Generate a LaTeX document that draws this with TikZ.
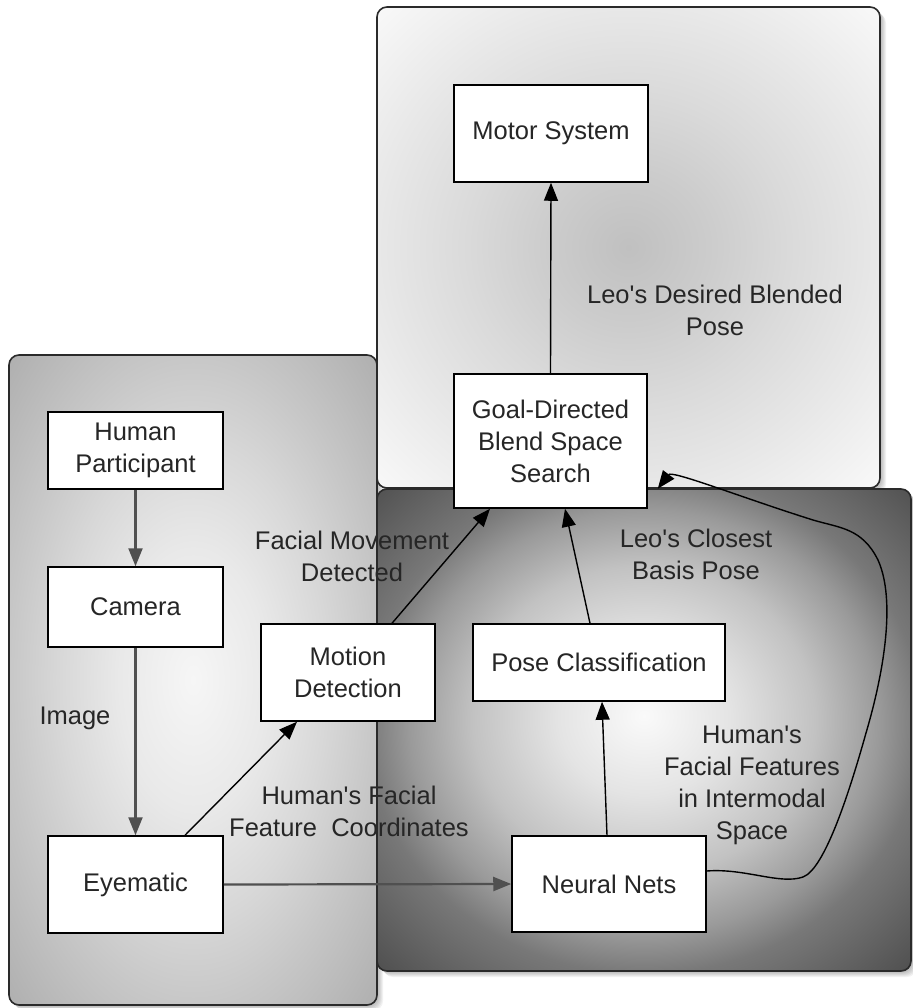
\documentclass[tikz,border=0pt]{standalone}
\usepackage{fontspec}
\setmainfont{Liberation Sans}
\usetikzlibrary{arrows.meta}

% colours
\definecolor{txt}{HTML}{262626}
\definecolor{edge}{HTML}{2A2A2A}
\definecolor{feedgray}{HTML}{505050}
\definecolor{lpA}{HTML}{F6F6F6}
\definecolor{lpB}{HTML}{E9E9E9}
\definecolor{lpC}{HTML}{D8D8D8}
\definecolor{lpD}{HTML}{C7C7C7}
\definecolor{lpE}{HTML}{B0B0B0}
\definecolor{tpA}{HTML}{C0C0C0}
\definecolor{tpB}{HTML}{CCCCCC}
\definecolor{tpC}{HTML}{DADADA}
\definecolor{tpD}{HTML}{E8E8E8}
\definecolor{tpE}{HTML}{F8F8F8}
\definecolor{dpA}{HTML}{FAFAFA}
\definecolor{dpB}{HTML}{E4E4E4}
\definecolor{dpC}{HTML}{C2C2C2}
\definecolor{dpD}{HTML}{9A9A9A}
\definecolor{dpE}{HTML}{787878}
\definecolor{dpF}{HTML}{525252}

% radial fills of the three grouping panels (path box spans +-25bp)
\pgfdeclareradialshading{perceptionfill}{\pgfpoint{0bp}{0bp}}%
  {color(0bp)=(lpA); color(10bp)=(lpB); color(18bp)=(lpC); color(25bp)=(lpD);
   color(35bp)=(lpE); color(50bp)=(lpE)}
\pgfdeclareradialshading{actionfill}{\pgfpoint{0bp}{0bp}}%
  {color(0bp)=(tpA); color(8bp)=(tpB); color(16bp)=(tpC); color(25bp)=(tpD);
   color(35bp)=(tpE); color(50bp)=(tpE)}
\pgfdeclareradialshading{mappingfill}{\pgfpoint{0bp}{1.5bp}}%
  {color(0bp)=(dpA); color(8bp)=(dpB); color(16bp)=(dpC); color(22bp)=(dpD);
   color(26bp)=(dpE); color(35bp)=(dpF); color(50bp)=(dpF)}

\newcommand{\apos}{\textquotesingle}

\begin{document}
\begin{tikzpicture}[x=0.5pt,y=-0.5pt,
  font=\fontsize{12.75}{16}\selectfont,
  box/.style={draw=black, line width=0.75pt, fill=white, align=center,
              inner sep=0pt, text=txt},
  lbl/.style={align=center, text=txt, inner sep=0pt},
  link/.style={draw=black, line width=0.7pt, -{Triangle[length=9pt,width=7pt]}},
  feed/.style={draw=feedgray, line width=1.1pt, -{Triangle[length=9pt,width=7pt]}},
  panelline/.style={draw=edge, line width=0.8pt, rounded corners=5pt},
  panelshadow/.style={fill=black, opacity=0.05, rounded corners=5pt}]

\useasboundingbox (0,0) rectangle (913,1008);

% ---- panels: soft shadows and shaded fills
\foreach \d in {1,...,6}
  \fill[panelshadow] (9+\d,355+\d) rectangle (377+\d,1005+\d);
\shade[shading=perceptionfill, rounded corners=5pt] (9,355) rectangle (377,1005);

\foreach \d in {1,...,6}
  \fill[panelshadow] (377+\d,7+\d) rectangle (880+\d,488+\d);
\shade[shading=actionfill, rounded corners=5pt] (377,7) rectangle (880,488);

\foreach \d in {1,...,6}
  \fill[panelshadow] (377+\d,489+\d) rectangle (911+\d,971+\d);
\shade[shading=mappingfill, rounded corners=5pt] (377,489) rectangle (911,971);

% ---- connector labels
\node[lbl] (lblDesired) at (715,310) {Leo\apos s Desired Blended\\Pose};
\node[lbl] (lblImage) at (75,718) {Image};
\node[lbl] (lblMovement) at (352,556) {Facial Movement\\Detected};
\node[lbl] (lblClosest) at (696,554) {Leo\apos s Closest\\Basis Pose};
\node[lbl] (lblCoords) at (349,811) {Human\apos s Facial\\Feature\ \ Coordinates};
\node[lbl] (lblIntermodal) at (752,785) {Human\apos s\\Facial Features\\in Intermodal\\Space};

% ---- panel outlines
\draw[panelline] (9,355) rectangle (377,1005);
\draw[panelline] (377,7) rectangle (880,488);
\draw[panelline] (377,489) rectangle (911,971);

% ---- process boxes
\node[box, minimum width=97pt,  minimum height=48.5pt] (motor)    at (551,133.5) {Motor System};
\node[box, minimum width=96.5pt,minimum height=67pt]   (goal)     at (550.5,441) {Goal-Directed\\Blend Space\\Search};
\node[box, minimum width=87.5pt,minimum height=38.5pt] (human)    at (135.5,450.5) {Human\\Participant};
\node[box, minimum width=87.5pt,minimum height=40pt]   (camera)   at (135.5,607) {Camera};
\node[box, minimum width=87.5pt,minimum height=48.5pt] (eyematic) at (135.5,884.5) {Eyematic};
\node[box, minimum width=87pt,  minimum height=48.5pt] (motion)   at (348,672.5) {Motion\\Detection};
\node[box, minimum width=126pt, minimum height=38.5pt] (pose)     at (599,662.5) {Pose Classification};
\node[box, minimum width=97pt,  minimum height=48pt]   (neural)   at (609,884) {Neural Nets};

% ---- connectors
\draw[feed] (human) -- (camera);
\draw[feed] (camera) -- (eyematic);
\draw[feed] (eyematic.east) -- (neural.west);
\draw[link] ([xshift=24.75pt]eyematic.north) -- ([xshift=-25.5pt]motion.south);
\draw[link] ([xshift=22pt]motion.north) -- ([xshift=-30.25pt]goal.south);
\draw[link] ([xshift=-4.5pt]pose.north) -- ([xshift=7.25pt]goal.south);
\draw[link] ([xshift=-1pt]neural.north) -- ([xshift=1.5pt]pose.south);
\draw[link] (goal.north) -- (motor.south);
\draw[link] ([yshift=6.5pt]neural.east)
  .. controls (745,868) and (780,885) .. (803,877)
  .. controls (825,869) and (850,790) .. (866,733)
  .. controls (884,672) and (896,600) .. (878,560)
  .. controls (862,528) and (840,528) .. (813,520)
  .. controls (740,497) and (672,470) .. ([xshift=5pt,yshift=10pt]goal.south east);

\end{tikzpicture}
\end{document}
